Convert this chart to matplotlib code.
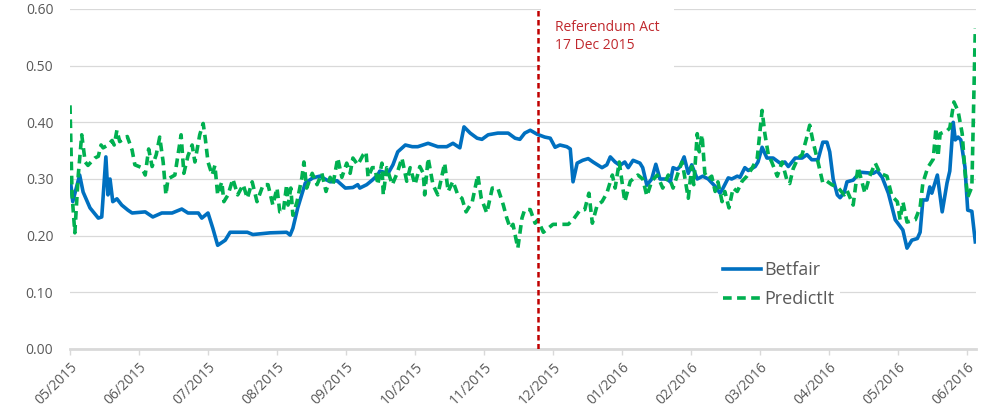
import matplotlib.pyplot as plt
import numpy as np

# x positions are in months since 05/2015 (axis ticks at whole months)
month_labels = ["05/2015", "06/2015", "07/2015", "08/2015", "09/2015", "10/2015",
                "11/2015", "12/2015", "01/2016", "02/2016", "03/2016", "04/2016",
                "05/2016", "06/2016"]

betfair_x = [0.01, 0.04, 0.14, 0.19, 0.29, 0.41, 0.46, 0.52, 0.55, 0.58, 0.62, 0.68, 0.75, 0.84,
             0.90, 1.09, 1.20, 1.33, 1.48, 1.62, 1.71, 1.86, 1.91, 2.00, 2.07, 2.14, 2.25, 2.32,
             2.57, 2.65, 2.90, 3.14, 3.19, 3.23, 3.30, 3.41, 3.52, 3.62, 3.77, 3.87, 3.99, 4.10,
             4.17, 4.20, 4.30, 4.38, 4.46, 4.49, 4.61, 4.68, 4.75, 4.86, 4.96, 5.04, 5.19, 5.33,
             5.46, 5.55, 5.65, 5.71, 5.80, 5.90, 5.97, 6.06, 6.20, 6.35, 6.45, 6.52, 6.59, 6.67,
             6.77, 6.88, 6.96, 7.03, 7.10, 7.20, 7.25, 7.29, 7.35, 7.43, 7.51, 7.58, 7.71, 7.78,
             7.83, 7.90, 7.97, 8.04, 8.09, 8.16, 8.26, 8.30, 8.36, 8.43, 8.49, 8.55, 8.65, 8.70,
             8.74, 8.80, 8.84, 8.90, 8.96, 9.01, 9.09, 9.17, 9.25, 9.35, 9.42, 9.46, 9.54, 9.59,
             9.67, 9.71, 9.78, 9.83, 9.93, 9.97, 10.03, 10.10, 10.19, 10.29, 10.36, 10.41, 10.51,
             10.61, 10.68, 10.75, 10.84, 10.91, 10.97, 11.01, 11.06, 11.12, 11.16, 11.22, 11.26,
             11.35, 11.45, 11.64, 11.70, 11.77, 11.86, 11.96, 12.07, 12.13, 12.20, 12.28, 12.32,
             12.36, 12.42, 12.46, 12.49, 12.57, 12.64, 12.71, 12.75, 12.80, 12.83, 12.87, 12.91,
             12.97, 13.01, 13.07, 13.12]
betfair_y = [0.293, 0.26, 0.307, 0.277, 0.249, 0.231, 0.233, 0.339, 0.272, 0.30, 0.26, 0.265, 0.254,
             0.245, 0.24, 0.242, 0.233, 0.24, 0.24, 0.247, 0.24, 0.24, 0.231, 0.24, 0.213, 0.183,
             0.192, 0.206, 0.206, 0.202, 0.205, 0.206, 0.201, 0.213, 0.249, 0.293, 0.302, 0.305,
             0.295, 0.297, 0.284, 0.285, 0.29, 0.284, 0.29, 0.298, 0.307, 0.314, 0.31, 0.325,
             0.348, 0.36, 0.357, 0.357, 0.363, 0.357, 0.357, 0.363, 0.355, 0.392, 0.381, 0.372,
             0.37, 0.378, 0.381, 0.381, 0.372, 0.37, 0.381, 0.386, 0.379, 0.374, 0.372, 0.356,
             0.36, 0.357, 0.353, 0.295, 0.328, 0.333, 0.336, 0.33, 0.32, 0.325, 0.339, 0.33,
             0.324, 0.33, 0.32, 0.333, 0.328, 0.32, 0.289, 0.30, 0.326, 0.30, 0.30, 0.295, 0.32,
             0.317, 0.322, 0.339, 0.31, 0.325, 0.30, 0.305, 0.30, 0.287, 0.275, 0.283, 0.302,
             0.30, 0.305, 0.303, 0.32, 0.315, 0.322, 0.33, 0.356, 0.337, 0.337, 0.328, 0.33,
             0.322, 0.337, 0.337, 0.343, 0.334, 0.334, 0.365, 0.365, 0.348, 0.30, 0.272, 0.267,
             0.276, 0.295, 0.298, 0.312, 0.31, 0.314, 0.303, 0.275, 0.228, 0.21, 0.178, 0.192,
             0.195, 0.206, 0.263, 0.263, 0.286, 0.275, 0.307, 0.242, 0.293, 0.314, 0.40, 0.369,
             0.374, 0.369, 0.321, 0.245, 0.243, 0.189]

predictit_x = [0.00, 0.03, 0.07, 0.12, 0.17, 0.22, 0.26, 0.36, 0.41, 0.45, 0.48, 0.55, 0.61, 0.64,
               0.68, 0.72, 0.83, 0.90, 0.94, 1.04, 1.09, 1.14, 1.19, 1.25, 1.30, 1.35, 1.39, 1.42,
               1.52, 1.61, 1.65, 1.71, 1.77, 1.81, 1.88, 1.93, 1.96, 2.00, 2.06, 2.10, 2.14, 2.20,
               2.23, 2.29, 2.36, 2.43, 2.51, 2.57, 2.64, 2.71, 2.80, 2.87, 2.94, 3.00, 3.04, 3.09,
               3.14, 3.16, 3.20, 3.23, 3.29, 3.36, 3.39, 3.43, 3.51, 3.58, 3.65, 3.71, 3.77, 3.81,
               3.88, 3.94, 4.01, 4.06, 4.10, 4.17, 4.25, 4.29, 4.32, 4.38, 4.42, 4.46, 4.52, 4.54,
               4.59, 4.67, 4.74, 4.81, 4.88, 4.93, 5.00, 5.07, 5.12, 5.14, 5.19, 5.26, 5.33, 5.43,
               5.48, 5.55, 5.62, 5.68, 5.74, 5.83, 5.91, 5.96, 6.04, 6.12, 6.20, 6.28, 6.33, 6.38,
               6.42, 6.49, 6.55, 6.59, 6.67, 6.74, 6.78, 6.86, 6.93, 7.00, 7.22, 7.29, 7.39, 7.46,
               7.52, 7.57, 7.64, 7.71, 7.78, 7.86, 7.90, 7.96, 8.04, 8.12, 8.23, 8.30, 8.36, 8.43,
               8.51, 8.59, 8.67, 8.74, 8.81, 8.87, 8.90, 8.96, 9.01, 9.04, 9.09, 9.12, 9.16, 9.20,
               9.25, 9.30, 9.35, 9.39, 9.45, 9.49, 9.55, 9.61, 9.67, 9.74, 9.81, 9.88, 9.96, 10.03,
               10.07, 10.12, 10.17, 10.25, 10.32, 10.39, 10.43, 10.48, 10.55, 10.61, 10.67, 10.72,
               10.77, 10.84, 10.91, 10.97, 11.04, 11.13, 11.22, 11.26, 11.35, 11.42, 11.52, 11.59,
               11.67, 11.74, 11.84, 11.91, 11.99, 12.03, 12.07, 12.13, 12.25, 12.32, 12.36, 12.43,
               12.51, 12.55, 12.58, 12.61, 12.71, 12.75, 12.81, 12.87, 12.93, 12.97, 13.01, 13.07,
               13.12]
predictit_y = [0.43, 0.272, 0.205, 0.307, 0.378, 0.33, 0.324, 0.337, 0.34, 0.36, 0.355, 0.36, 0.368,
               0.36, 0.386, 0.366, 0.375, 0.351, 0.325, 0.32, 0.307, 0.353, 0.322, 0.343, 0.374,
               0.33, 0.272, 0.30, 0.307, 0.378, 0.31, 0.341, 0.36, 0.33, 0.378, 0.398, 0.372, 0.33,
               0.307, 0.324, 0.272, 0.295, 0.26, 0.272, 0.30, 0.272, 0.29, 0.266, 0.295, 0.26, 0.29,
               0.29, 0.254, 0.284, 0.242, 0.242, 0.29, 0.254, 0.284, 0.236, 0.26, 0.302, 0.33,
               0.284, 0.31, 0.29, 0.31, 0.278, 0.303, 0.29, 0.337, 0.303, 0.328, 0.31, 0.337,
               0.325, 0.343, 0.348, 0.303, 0.32, 0.32, 0.29, 0.328, 0.272, 0.32, 0.29, 0.31, 0.337,
               0.296, 0.32, 0.29, 0.322, 0.31, 0.272, 0.337, 0.29, 0.272, 0.328, 0.278, 0.296,
               0.272, 0.266, 0.242, 0.26, 0.307, 0.266, 0.24, 0.284, 0.284, 0.254, 0.231, 0.213,
               0.22, 0.178, 0.231, 0.246, 0.246, 0.222, 0.228, 0.206, 0.213, 0.22, 0.22, 0.228,
               0.245, 0.246, 0.275, 0.222, 0.254, 0.26, 0.275, 0.307, 0.284, 0.33, 0.26, 0.296,
               0.307, 0.30, 0.27, 0.296, 0.307, 0.284, 0.307, 0.284, 0.31, 0.33, 0.31, 0.266,
               0.322, 0.29, 0.38, 0.348, 0.378, 0.31, 0.30, 0.305, 0.278, 0.295, 0.26, 0.278,
               0.249, 0.284, 0.278, 0.296, 0.305, 0.318, 0.337, 0.421, 0.38, 0.343, 0.33, 0.305,
               0.33, 0.298, 0.292, 0.318, 0.337, 0.343, 0.37, 0.395, 0.365, 0.33, 0.293, 0.296,
               0.29, 0.285, 0.272, 0.28, 0.254, 0.321, 0.275, 0.305, 0.328, 0.31, 0.305, 0.27,
               0.26, 0.228, 0.26, 0.224, 0.228, 0.25, 0.293, 0.32, 0.335, 0.39, 0.34, 0.38, 0.385,
               0.39, 0.436, 0.42, 0.38, 0.313, 0.268, 0.286, 0.566]

referendum_x = 6.78
referendum_label = "Referendum Act\n17 Dec 2015"

grey = "#595959"
plt.rcParams['font.family'] = ['Open Sans', 'DejaVu Sans']

fig = plt.figure(figsize=(9.87, 4.16), dpi=100)
ax = fig.add_axes([70 / 987, 1 - 349 / 416, 906 / 987, 340 / 416])

ax.plot(betfair_x, betfair_y, color="#0070C0", lw=2.6, label="Betfair", zorder=3)
ax.plot(predictit_x, predictit_y, color="#00B050", lw=2.6, ls=(0, (2.4, 1.5)),
        label="PredictIt", zorder=4)

ax.axvline(referendum_x, color="#C00000", lw=1.8, ls=(0, (2.2, 1.4)), zorder=6)
ax.text(referendum_x + 0.25, 0.58, referendum_label, color="#C0282D", fontsize=10,
        va="top", ha="left", linespacing=1.25, zorder=5,
        bbox=dict(boxstyle="square,pad=1.05", facecolor="white", edgecolor="none"))

ax.set_xlim(0, 13.13)
ax.set_ylim(0, 0.6)
ax.set_yticks(np.arange(0, 0.61, 0.1))
ax.set_yticklabels([f"{v:.2f}" for v in np.arange(0, 0.61, 0.1)])
ax.set_xticks(range(len(month_labels)))
ax.set_xticklabels(month_labels, rotation=45, ha="right", rotation_mode="anchor")

ax.grid(axis="y", color="#d9d9d9", lw=0.9)
ax.set_axisbelow(True)
for s in ["top", "right", "left"]:
    ax.spines[s].set_visible(False)
ax.spines["bottom"].set_color("#d9d9d9")
ax.spines["bottom"].set_linewidth(2)
ax.tick_params(axis="y", length=0, pad=12, labelsize=10, labelcolor=grey)
ax.tick_params(axis="x", length=4, width=1, color="#d9d9d9", pad=4, labelsize=10,
               labelcolor=grey)

leg = ax.legend(loc="upper left", bbox_to_anchor=(718 / 987, 1 - 256 / 416),
                bbox_transform=fig.transFigure, frameon=True, fontsize=13,
                handlelength=2.1, handletextpad=0.15, labelspacing=0.6,
                borderpad=0.3, borderaxespad=0)
leg.get_frame().set_facecolor("white")
leg.get_frame().set_edgecolor("none")
leg.get_frame().set_alpha(1)
for t in leg.get_texts():
    t.set_color(grey)

fig.savefig("out.png", dpi=100)
